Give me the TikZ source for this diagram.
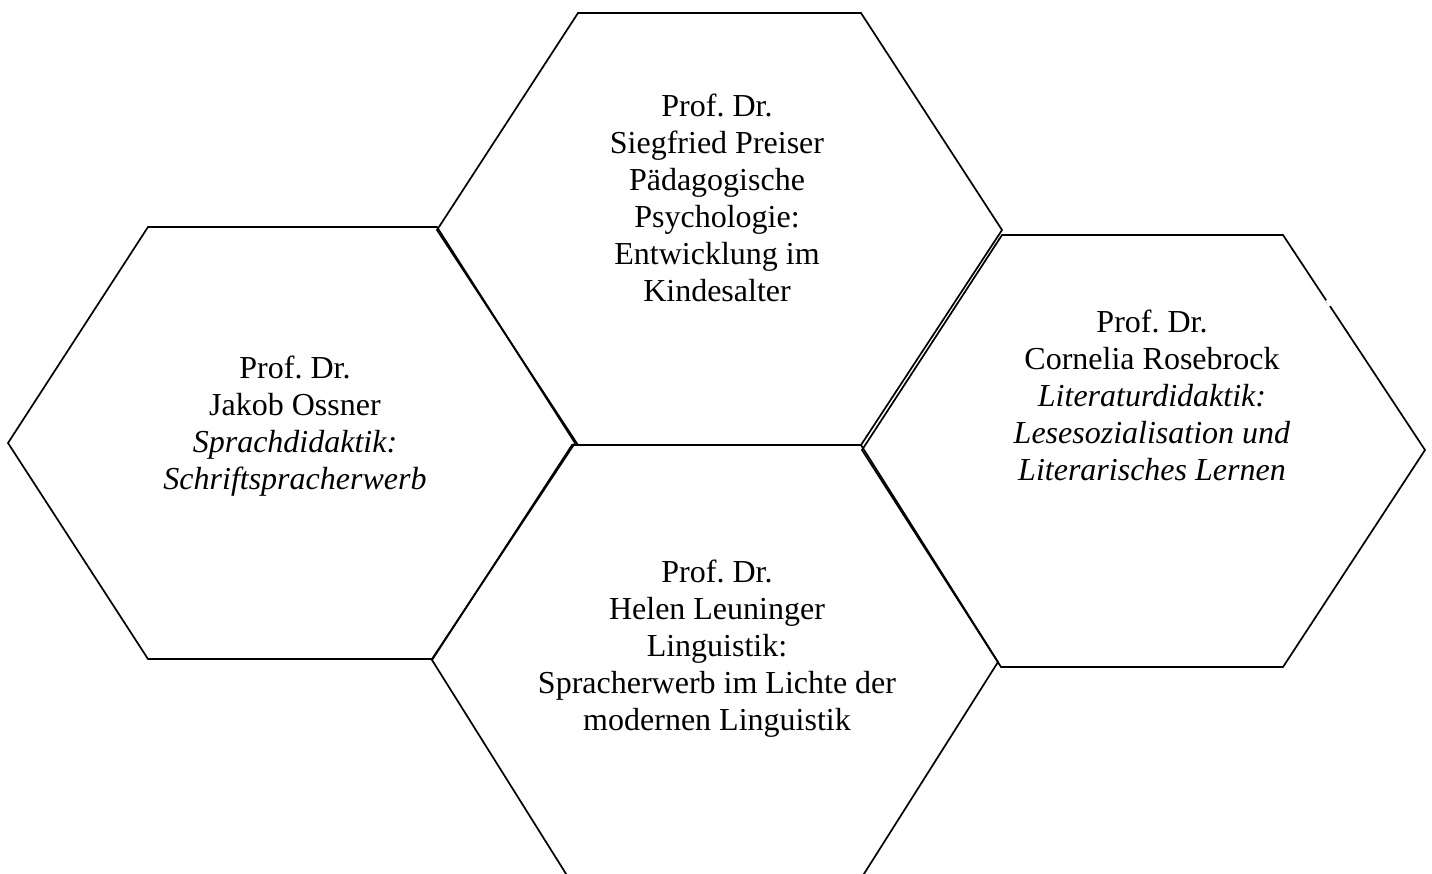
\documentclass[tikz,border=0pt]{standalone}
\usepackage{fontspec}
\setmainfont{Liberation Serif}
\frenchspacing
\begin{document}
\begin{tikzpicture}[x=1pt,y=-1pt,
  hexline/.style={line width=1.7pt,line join=miter},
  label/.style={align=center,inner sep=0pt,font=\fontsize{32}{37}\selectfont}]
\useasboundingbox (0,0) rectangle (1432,873);
\clip (0,0) rectangle (1432,873);
% hexagon outlines
\draw[hexline] (8,443) -- (148,227) -- (437,227) -- (575,443) -- (432,659) -- (148,659) -- cycle;
\draw[hexline] (437,230) -- (578,13) -- (861,13) -- (1002,230) -- (861,445) -- (578,445) -- cycle;
\draw[hexline] (862,450) -- (1002,235) -- (1283,235) -- (1425,450) -- (1283,667) -- (1001,667) -- cycle;
\draw[hexline] (432,660) -- (572,445) -- (861,445) -- (998,662) -- (862,877) -- (568,877) -- cycle;
\draw[white,line width=3pt] (1327,300) -- (1330,306);
% texts
\node[label] (ossner) at (295,426) {Prof. Dr.\\Jakob Ossner\\\textit{Sprachdidaktik:}\\\textit{Schriftspracherwerb}};
\node[label] (preiser) at (717,198) {Prof. Dr.\\Siegfried Preiser\\Pädagogische\\Psychologie:\\Entwicklung im\\Kindesalter};
\node[label] (rosebrock) at (1152,395) {Prof. Dr.\\Cornelia Rosebrock\\\textit{Literaturdidaktik:}\\\textit{Lesesozialisation und}\\\textit{Literarisches Lernen}};
\node[label] (leuninger) at (717,649) {Prof. Dr.\\Helen Leuninger\\Linguistik:\\Spracherwerb im Lichte der\\modernen Linguistik};
\end{tikzpicture}
\end{document}
